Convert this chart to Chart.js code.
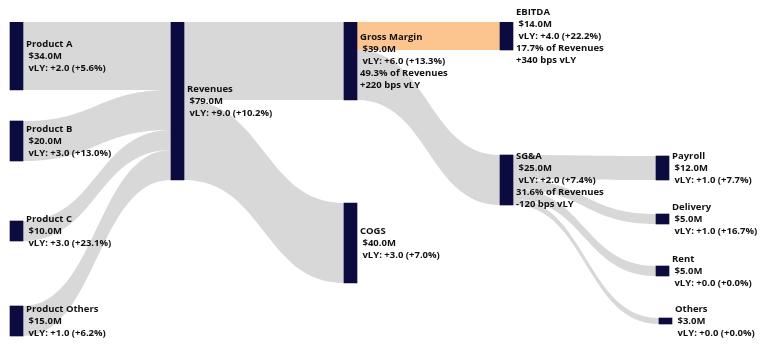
<!DOCTYPE html>
<html>
<head>
<meta charset="utf-8">
<script src="https://cdn.jsdelivr.net/npm/chart.js@4.4.1/dist/chart.umd.min.js"></script>
<style>
  html, body { margin: 0; padding: 0; background: #ffffff; }
  #wrap { width: 768px; height: 351px; position: relative; }
</style>
</head>
<body>
<div id="wrap"><canvas id="c"></canvas></div>
<script>
// ---- Data ----
const nodeNames = ["Product A", "Product B", "Product C", "Product Others", "Revenues",
  "Gross Margin", "COGS", "EBITDA", "SG&A", "Payroll", "Delivery", "Rent", "Others"];
const nodeValues = [34.0, 20.0, 10.0, 15.0, 79.0, 39.0, 40.0, 14.0, 25.0, 12.0, 5.0, 5.0, 3.0];
const vlyAbs = [2.0, 3.0, 3.0, 1.0, 9.0, 6.0, 3.0, 4.0, 2.0, 1.0, 1.0, 0.0, 0.0];
const vlyPct = [5.6, 13.0, 23.1, 6.2, 10.2, 13.3, 7.0, 22.2, 7.4, 7.7, 16.7, 0.0, 0.0];
const pctOfRevenues = [null, null, null, null, null, 49.3, null, 17.7, 31.6, null, null, null, null];
const bpsVsLY = [null, null, null, null, null, 220, null, 340, -120, null, null, null, null];

const linkSource = [0, 1, 2, 3, 4, 4, 5, 5, 8, 8, 8, 8];
const linkTarget = [4, 4, 4, 4, 5, 6, 7, 8, 9, 10, 11, 12];
const linkValue  = [34, 20, 10, 15, 39, 40, 14, 25, 12, 5, 5, 3];

// ---- Layout (positions / styles, not data) ----
const nodeX   = [10, 10, 10, 10, 171, 344, 344, 500, 500, 656, 656, 656, 659]; // left edge in x-scale units
const nodeTop = [0, 49.5, 99.5, 142, 0, 0, 90.5, 0, 66.5, 67, 96, 122, 148];   // top in value units
const NODE_W = 13;
const NODE_COLOR = "#0c0b40";
const FLOW_COLOR = "#d8d8d8";
const HIGHLIGHT_FLOW = "#fcc590";
const highlightLinks = [6];

function fmtSigned(v, d) { return (v < 0 ? "-" : "+") + Math.abs(v).toFixed(d); }
function labelLines(i) {
  const lines = [nodeNames[i], " $" + nodeValues[i].toFixed(1) + "M",
    " vLY: " + fmtSigned(vlyAbs[i], 1) + " (" + fmtSigned(vlyPct[i], 1) + "%)"];
  if (pctOfRevenues[i] !== null) lines.push(pctOfRevenues[i].toFixed(1) + "% of Revenues");
  if (bpsVsLY[i] !== null) lines.push(fmtSigned(bpsVsLY[i], 0) + " bps vLY");
  return lines;
}

const nodeData = nodeNames.map((n, i) => ({ x: nodeX[i] + NODE_W / 2, y: [nodeTop[i], nodeTop[i] + nodeValues[i]] }));

const sankeyPlugin = {
  id: "sankeyFlows",
  beforeDatasetsDraw(chart) {
    const ctx = chart.ctx, xs = chart.scales.x, ys = chart.scales.y;
    const outOff = nodeNames.map(() => 0), inOff = nodeNames.map(() => 0);
    ctx.save();
    linkSource.forEach((s, k) => {
      const t = linkTarget[k], v = linkValue[k];
      const x0 = xs.getPixelForValue(nodeX[s] + NODE_W);
      const x1 = xs.getPixelForValue(nodeX[t]);
      const sy0 = ys.getPixelForValue(nodeTop[s] + outOff[s]);
      const sy1 = ys.getPixelForValue(nodeTop[s] + outOff[s] + v);
      const ty0 = ys.getPixelForValue(nodeTop[t] + inOff[t]);
      const ty1 = ys.getPixelForValue(nodeTop[t] + inOff[t] + v);
      outOff[s] += v; inOff[t] += v;
      const xm = (x0 + x1) / 2;
      ctx.beginPath();
      ctx.moveTo(x0, sy0);
      ctx.bezierCurveTo(xm, sy0, xm, ty0, x1, ty0);
      ctx.lineTo(x1, ty1);
      ctx.bezierCurveTo(xm, ty1, xm, sy1, x0, sy1);
      ctx.closePath();
      ctx.fillStyle = highlightLinks.includes(k) ? HIGHLIGHT_FLOW : FLOW_COLOR;
      ctx.fill();
    });
    ctx.restore();
  },
  afterDatasetsDraw(chart) {
    const ctx = chart.ctx, xs = chart.scales.x, ys = chart.scales.y;
    ctx.save();
    ctx.font = 'bold 9.5px "Open Sans"';
    ctx.fillStyle = "#111111";
    ctx.textBaseline = "middle";
    ctx.textAlign = "left";
    const LH = 12;
    nodeNames.forEach((n, i) => {
      const lines = labelLines(i);
      const x = xs.getPixelForValue(nodeX[i] + NODE_W) + 3;
      const cy = (ys.getPixelForValue(nodeTop[i]) + ys.getPixelForValue(nodeTop[i] + nodeValues[i])) / 2;
      const y0 = cy - (lines.length - 1) * LH / 2;
      lines.forEach((l, j) => ctx.fillText(l, x, y0 + j * LH));
    });
    ctx.restore();
  }
};

new Chart(document.getElementById("c"), {
  type: "bar",
  data: {
    datasets: [{
      data: nodeData,
      backgroundColor: NODE_COLOR,
      borderWidth: 0,
      borderSkipped: false,
      barThickness: NODE_W
    }]
  },
  options: {
    responsive: true,
    maintainAspectRatio: false,
    animation: false,
    layout: { padding: { top: 22, bottom: 9, left: 0, right: 0 } },
    plugins: { legend: { display: false }, tooltip: { enabled: false } },
    scales: {
      x: { type: "linear", min: 0, max: 768, offset: false, display: false, grid: { offset: false } },
      y: { type: "linear", min: 0, max: 160, reverse: true, display: false }
    }
  },
  plugins: [sankeyPlugin]
});
</script>
</body>
</html>
